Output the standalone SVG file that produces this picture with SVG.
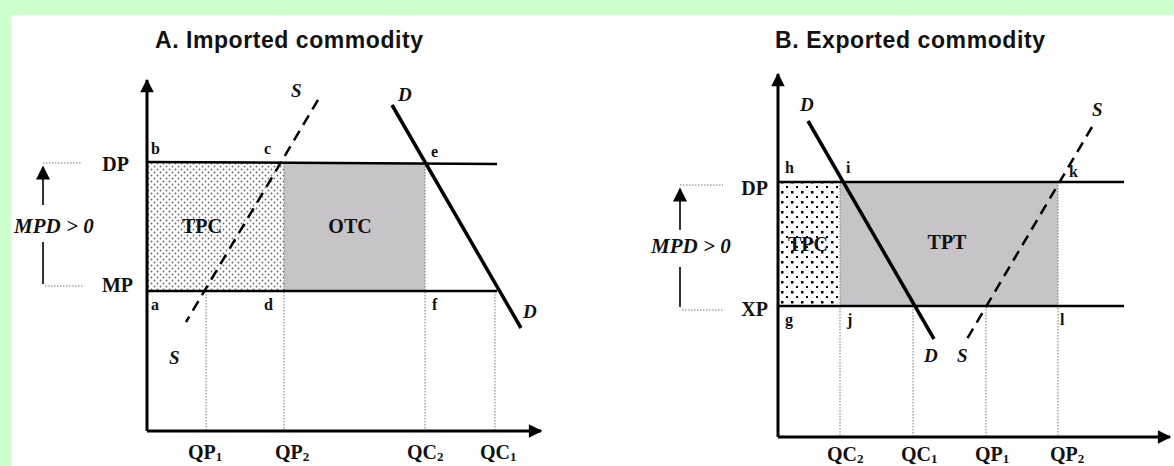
<svg xmlns="http://www.w3.org/2000/svg" width="1174" height="466" viewBox="0 0 1174 466">
<defs>
<style>
.title{font-family:"Liberation Sans",Arial,sans-serif;font-weight:bold;font-size:23px;fill:#111}
.lab{font-family:"Liberation Serif","Times New Roman",serif;font-weight:bold;font-size:20px;fill:#111}
.sub{font-size:13px}
.pt{font-family:"Liberation Serif","Times New Roman",serif;font-weight:bold;font-size:16px;fill:#111}
.it{font-family:"Liberation Serif","Times New Roman",serif;font-weight:bold;font-style:italic;font-size:19px;fill:#111}
.mpd{font-family:"Liberation Serif","Times New Roman",serif;font-weight:bold;font-style:italic;font-size:21px;fill:#111}
.ax{stroke:#000;stroke-width:3;fill:none}
.hl{stroke:#000;stroke-width:2.5;fill:none}
.dl{stroke:#000;stroke-width:3.5;fill:none}
.ds{stroke:#000;stroke-width:2.5;fill:none;stroke-dasharray:11 7}
.dot{stroke:#777;stroke-width:1;fill:none;stroke-dasharray:1.5 1.5}
.thin{stroke:#333;stroke-width:2;fill:none}
.grey{fill:#c6c4c7}
</style>
<pattern id="dotsA" width="6" height="6" patternUnits="userSpaceOnUse">
<rect width="6" height="6" fill="#fff"/>
<circle cx="1.5" cy="1.5" r="0.9" fill="#666"/>
<circle cx="4.5" cy="4.5" r="0.9" fill="#666"/>
</pattern>
<pattern id="dotsB" width="10" height="10" patternUnits="userSpaceOnUse">
<rect width="10" height="10" fill="#fff"/>
<rect x="1" y="1" width="2.5" height="2.5" fill="#000"/>
<rect x="6" y="6" width="2" height="2" fill="#000"/>
</pattern>
<marker id="ah" viewBox="0 0 10 10" refX="9" refY="5" markerWidth="5" markerHeight="4.5" orient="auto" markerUnits="strokeWidth">
<path d="M0,0 L10,5 L0,10 z" fill="#000"/>
</marker>
<marker id="ah2" viewBox="0 0 10 10" refX="9" refY="5" markerWidth="8" markerHeight="7" orient="auto" markerUnits="strokeWidth">
<path d="M0,0 L10,5 L0,10 z" fill="#000"/>
</marker>
</defs>
<rect width="1174" height="466" fill="#ccffcc"/>
<rect x="11" y="15" width="1163" height="451" fill="#fff"/>

<g id="panelA">
<text class="title" x="289" y="48" text-anchor="middle" textLength="268" lengthAdjust="spacing">A. Imported commodity</text>
<g id="areasA">
<rect x="147" y="163" width="137" height="128" fill="url(#dotsA)"/>
<rect class="grey" x="284" y="163" width="141" height="128"/>
</g>
<g id="connectorsA">
<line class="dot" x1="206" y1="291" x2="206" y2="431"/>
<line class="dot" x1="284" y1="163" x2="284" y2="431"/>
<line class="dot" x1="425" y1="163" x2="425" y2="431"/>
<line class="dot" x1="495" y1="291" x2="495" y2="431"/>
<line class="hl" x1="147" y1="162" x2="497" y2="164"/>
<line class="hl" x1="147" y1="291" x2="497" y2="291"/>
<line class="ds" x1="318" y1="100" x2="186" y2="322"/>
<line class="dl" x1="392" y1="105" x2="521" y2="328"/>
<line class="ax" x1="147" y1="431" x2="147" y2="80" marker-end="url(#ah)"/>
<line class="ax" x1="147" y1="431" x2="541" y2="431" marker-end="url(#ah)"/>
<line class="dot" x1="43" y1="163" x2="82" y2="163"/>
<line class="thin" x1="43" y1="205" x2="43" y2="167" marker-end="url(#ah2)"/>
<line class="thin" x1="43" y1="242" x2="43" y2="284"/>
<line class="dot" x1="45" y1="286" x2="83" y2="286"/>
</g>
<g id="labelsA">
<text class="lab" x="129" y="171" text-anchor="end">DP</text>
<text class="lab" x="133" y="292" text-anchor="end">MP</text>
<text class="mpd" x="14" y="233">MPD &gt; 0</text>
<text class="lab" x="202" y="233" text-anchor="middle">TPC</text>
<text class="lab" x="350" y="233" text-anchor="middle">OTC</text>
<text class="pt" x="151" y="154">b</text>
<text class="pt" x="264" y="154">c</text>
<text class="pt" x="431" y="157">e</text>
<text class="pt" x="151" y="310">a</text>
<text class="pt" x="264" y="310">d</text>
<text class="pt" x="432" y="310">f</text>
<text class="it" x="291" y="97">S</text>
<text class="it" x="398" y="101">D</text>
<text class="it" x="169" y="364">S</text>
<text class="it" x="523" y="318">D</text>
<text class="lab" x="188" y="459">QP<tspan class="sub" dy="2">1</tspan></text>
<text class="lab" x="275" y="459">QP<tspan class="sub" dy="2">2</tspan></text>
<text class="lab" x="407" y="459">QC<tspan class="sub" dy="2">2</tspan></text>
<text class="lab" x="480" y="459">QC<tspan class="sub" dy="2">1</tspan></text>
</g>
</g>

<g id="panelB">
<text class="title" x="910" y="48" text-anchor="middle" textLength="270" lengthAdjust="spacing">B. Exported commodity</text>
<g id="areasB">
<rect x="778" y="182" width="62" height="124" fill="url(#dotsB)"/>
<rect class="grey" x="840" y="182" width="218" height="124"/>
</g>
<g id="connectorsB">
<line class="dot" x1="840" y1="182" x2="840" y2="437"/>
<line class="dot" x1="913" y1="306" x2="913" y2="437"/>
<line class="dot" x1="986" y1="306" x2="986" y2="437"/>
<line class="dot" x1="1058" y1="182" x2="1058" y2="437"/>
<line class="hl" x1="778" y1="182" x2="1124" y2="182"/>
<line class="hl" x1="778" y1="306" x2="1124" y2="306"/>
<line class="dl" x1="808" y1="121" x2="934" y2="339"/>
<line class="ds" x1="1092" y1="127" x2="964" y2="344"/>
<line class="ax" x1="778" y1="437" x2="778" y2="74" marker-end="url(#ah)"/>
<line class="ax" x1="778" y1="437" x2="1170" y2="437" marker-end="url(#ah)"/>
<line class="dot" x1="680" y1="185" x2="723" y2="185"/>
<line class="thin" x1="680" y1="230" x2="680" y2="189" marker-end="url(#ah2)"/>
<line class="thin" x1="680" y1="267" x2="680" y2="307"/>
<line class="dot" x1="682" y1="310" x2="724" y2="310"/>
</g>
<g id="labelsB">
<text class="lab" x="768" y="195" text-anchor="end">DP</text>
<text class="lab" x="768" y="316" text-anchor="end">XP</text>
<text class="mpd" x="651" y="253">MPD &gt; 0</text>
<text class="lab" x="808" y="251" text-anchor="middle">TPC</text>
<text class="lab" x="947" y="249" text-anchor="middle">TPT</text>
<text class="pt" x="785" y="173">h</text>
<text class="pt" x="846" y="173">i</text>
<text class="pt" x="1069" y="177">k</text>
<text class="pt" x="785" y="325">g</text>
<text class="pt" x="847" y="325">j</text>
<text class="pt" x="1060" y="325">l</text>
<text class="it" x="800" y="111">D</text>
<text class="it" x="1092" y="116">S</text>
<text class="it" x="924" y="362">D</text>
<text class="it" x="957" y="362">S</text>
<text class="lab" x="827" y="461">QC<tspan class="sub" dy="2">2</tspan></text>
<text class="lab" x="901" y="461">QC<tspan class="sub" dy="2">1</tspan></text>
<text class="lab" x="975" y="461">QP<tspan class="sub" dy="2">1</tspan></text>
<text class="lab" x="1050" y="461">QP<tspan class="sub" dy="2">2</tspan></text>
</g>
</g>
</svg>
